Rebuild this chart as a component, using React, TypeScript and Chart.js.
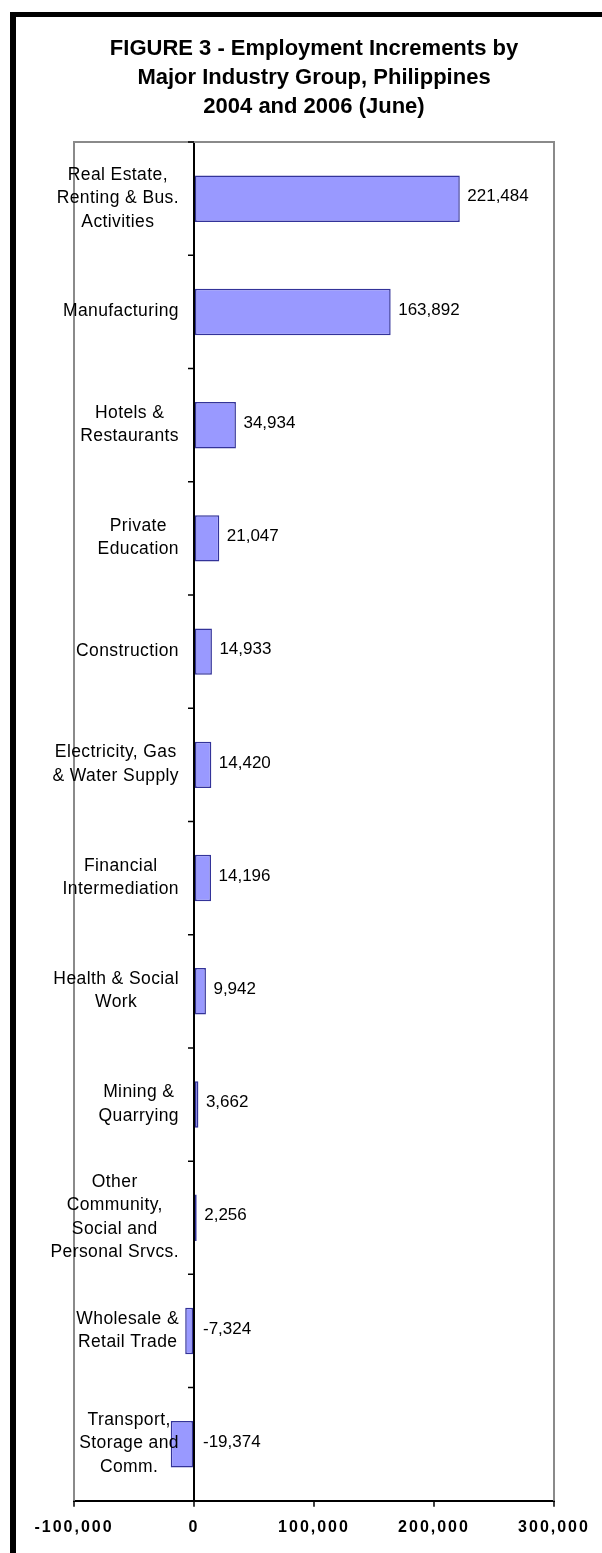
import React, { useEffect, useRef } from "react";
import { Chart, registerables } from "chart.js";

Chart.register(...registerables);

const FONT = "'Liberation Sans', Arial, Helvetica, sans-serif";

const titleLines: string[] = [
  "FIGURE 3 - Employment Increments by",
  "Major Industry Group, Philippines",
  "2004 and 2006 (June)",
];

const categories: string[][] = [
  ["Real Estate,", "Renting & Bus.", "Activities"],
  ["Manufacturing"],
  ["Hotels &", "Restaurants"],
  ["Private", "Education"],
  ["Construction"],
  ["Electricity, Gas", "& Water Supply"],
  ["Financial", "Intermediation"],
  ["Health & Social", "Work"],
  ["Mining &", "Quarrying"],
  ["Other", "Community,", "Social and", "Personal Srvcs."],
  ["Wholesale &", "Retail Trade"],
  ["Transport,", "Storage and", "Comm."],
];

const values: number[] = [
  221484, 163892, 34934, 21047, 14933, 14420, 14196, 9942, 3662, 2256, -7324, -19374,
];

const xTickValues: number[] = [-100000, 0, 100000, 200000, 300000];

export default function App() {
  const ref = useRef<HTMLCanvasElement>(null);

  useEffect(() => {
    const canvas = ref.current;
    if (!canvas) return;

    const drawPlugin = {
      id: "customDraw",
      beforeDatasetsDraw(chart: any) {
        const { ctx, chartArea: ca } = chart;
        ctx.save();
        ctx.strokeStyle = "#8a8a8a";
        ctx.lineWidth = 2;
        ctx.beginPath();
        ctx.moveTo(ca.left, ca.bottom);
        ctx.lineTo(ca.left, ca.top);
        ctx.lineTo(ca.right, ca.top);
        ctx.lineTo(ca.right, ca.bottom);
        ctx.stroke();
        ctx.restore();
      },
      afterDatasetsDraw(chart: any) {
        const { ctx, scales } = chart;
        const xs = scales.x;
        const ys = scales.y;
        const zeroX = xs.getPixelForValue(0);
        ctx.save();
        // category boundary ticks on the zero axis
        ctx.strokeStyle = "#000";
        ctx.lineWidth = 1.5;
        ctx.beginPath();
        for (let k = 0; k < categories.length; k++) {
          const y = ys.getPixelForValue(k - 0.5);
          ctx.moveTo(zeroX - 6, y);
          ctx.lineTo(zeroX, y);
        }
        ctx.stroke();

        // data labels
        const meta = chart.getDatasetMeta(0);
        ctx.font = `17px ${FONT}`;
        ctx.fillStyle = "#000";
        ctx.textBaseline = "middle";
        ctx.textAlign = "left";
        meta.data.forEach((el: any, i: number) => {
          const v = values[i];
          const x = Math.max(el.x, zeroX) + (v < 0 ? 9 : 7.5);
          ctx.fillText(v.toLocaleString("en-US"), x, el.y - 2);
        });

        // category labels, block-centred, right edge near the zero axis
        ctx.font = `17.5px ${FONT}`;
        try {
          (ctx as any).letterSpacing = "0.4px";
        } catch (e) {}
        ctx.textAlign = "center";
        ctx.textBaseline = "alphabetic";
        categories.forEach((lines, i) => {
          const yc = ys.getPixelForValue(i);
          const w = Math.max(...lines.map((l) => ctx.measureText(l).width));
          const cx = zeroX - 15 - w / 2;
          lines.forEach((l, j) => {
            const y = yc - 2 + (j - (lines.length - 1) / 2) * 23.5 + 6.3;
            ctx.fillText(l, cx, y);
          });
        });
        ctx.restore();
        try {
          (ctx as any).letterSpacing = "2px";
        } catch (e) {}
      },
      afterDraw(chart: any) {
        try {
          (chart.ctx as any).letterSpacing = "0px";
        } catch (e) {}
      },
    };

    const chart = new Chart(canvas, {
      type: "bar",
      data: {
        labels: categories,
        datasets: [
          {
            data: values,
            backgroundColor: "#9999FF",
            borderColor: "#333399",
            borderWidth: 1.5,
            borderSkipped: false,
            barPercentage: 0.41,
            categoryPercentage: 1,
          },
        ],
      },
      options: {
        indexAxis: "y",
        responsive: false,
        animation: false,
        devicePixelRatio: 1,
        layout: { padding: { left: 74, right: 48, top: 10, bottom: 5 } },
        plugins: {
          legend: { display: false },
          tooltip: { enabled: false },
          title: {
            display: true,
            text: titleLines,
            color: "#000",
            font: { family: FONT, size: 22, weight: "bold", lineHeight: 1.32 },
            padding: { top: 24, bottom: 21 },
          },
        },
        scales: {
          x: {
            type: "linear",
            min: -100000,
            max: 300000,
            afterBuildTicks: (s: any) => {
              s.ticks = xTickValues.map((v) => ({ value: v }));
            },
            ticks: {
              callback: (v: any) => Number(v).toLocaleString("en-US"),
              font: { family: FONT, size: 16, weight: "bold" },
              color: "#000",
              padding: 11,
              maxRotation: 0,
              autoSkip: false,
              z: 1,
            },
            grid: {
              color: (c: any) => (c.tick && c.tick.value === 0 ? "#000" : "rgba(0,0,0,0)"),
              lineWidth: 2,
              drawTicks: true,
              tickLength: 6,
              tickColor: "#000",
              tickWidth: 1.5,
            },
            border: { display: true, color: "#000", width: 2 },
          },
          y: {
            display: false,
            grid: { display: false },
          },
        },
      },
      plugins: [drawPlugin],
    } as any);

    return () => {
      chart.destroy();
    };
  }, []);

  return (
    <div
      style={{
        position: "fixed",
        left: 0,
        top: 0,
        width: 602,
        height: 1553,
        overflow: "hidden",
        background: "#fff",
      }}
    >
      <div
        style={{
          position: "absolute",
          left: 10,
          top: 12,
          width: 700,
          height: 1700,
          borderLeft: "6px solid #000",
          borderTop: "5px solid #000",
          boxSizing: "border-box",
        }}
      />
      <canvas
        ref={ref}
        width={602}
        height={1553}
        style={{ position: "absolute", left: 0, top: 0, width: 602, height: 1553 }}
      />
    </div>
  );
}
